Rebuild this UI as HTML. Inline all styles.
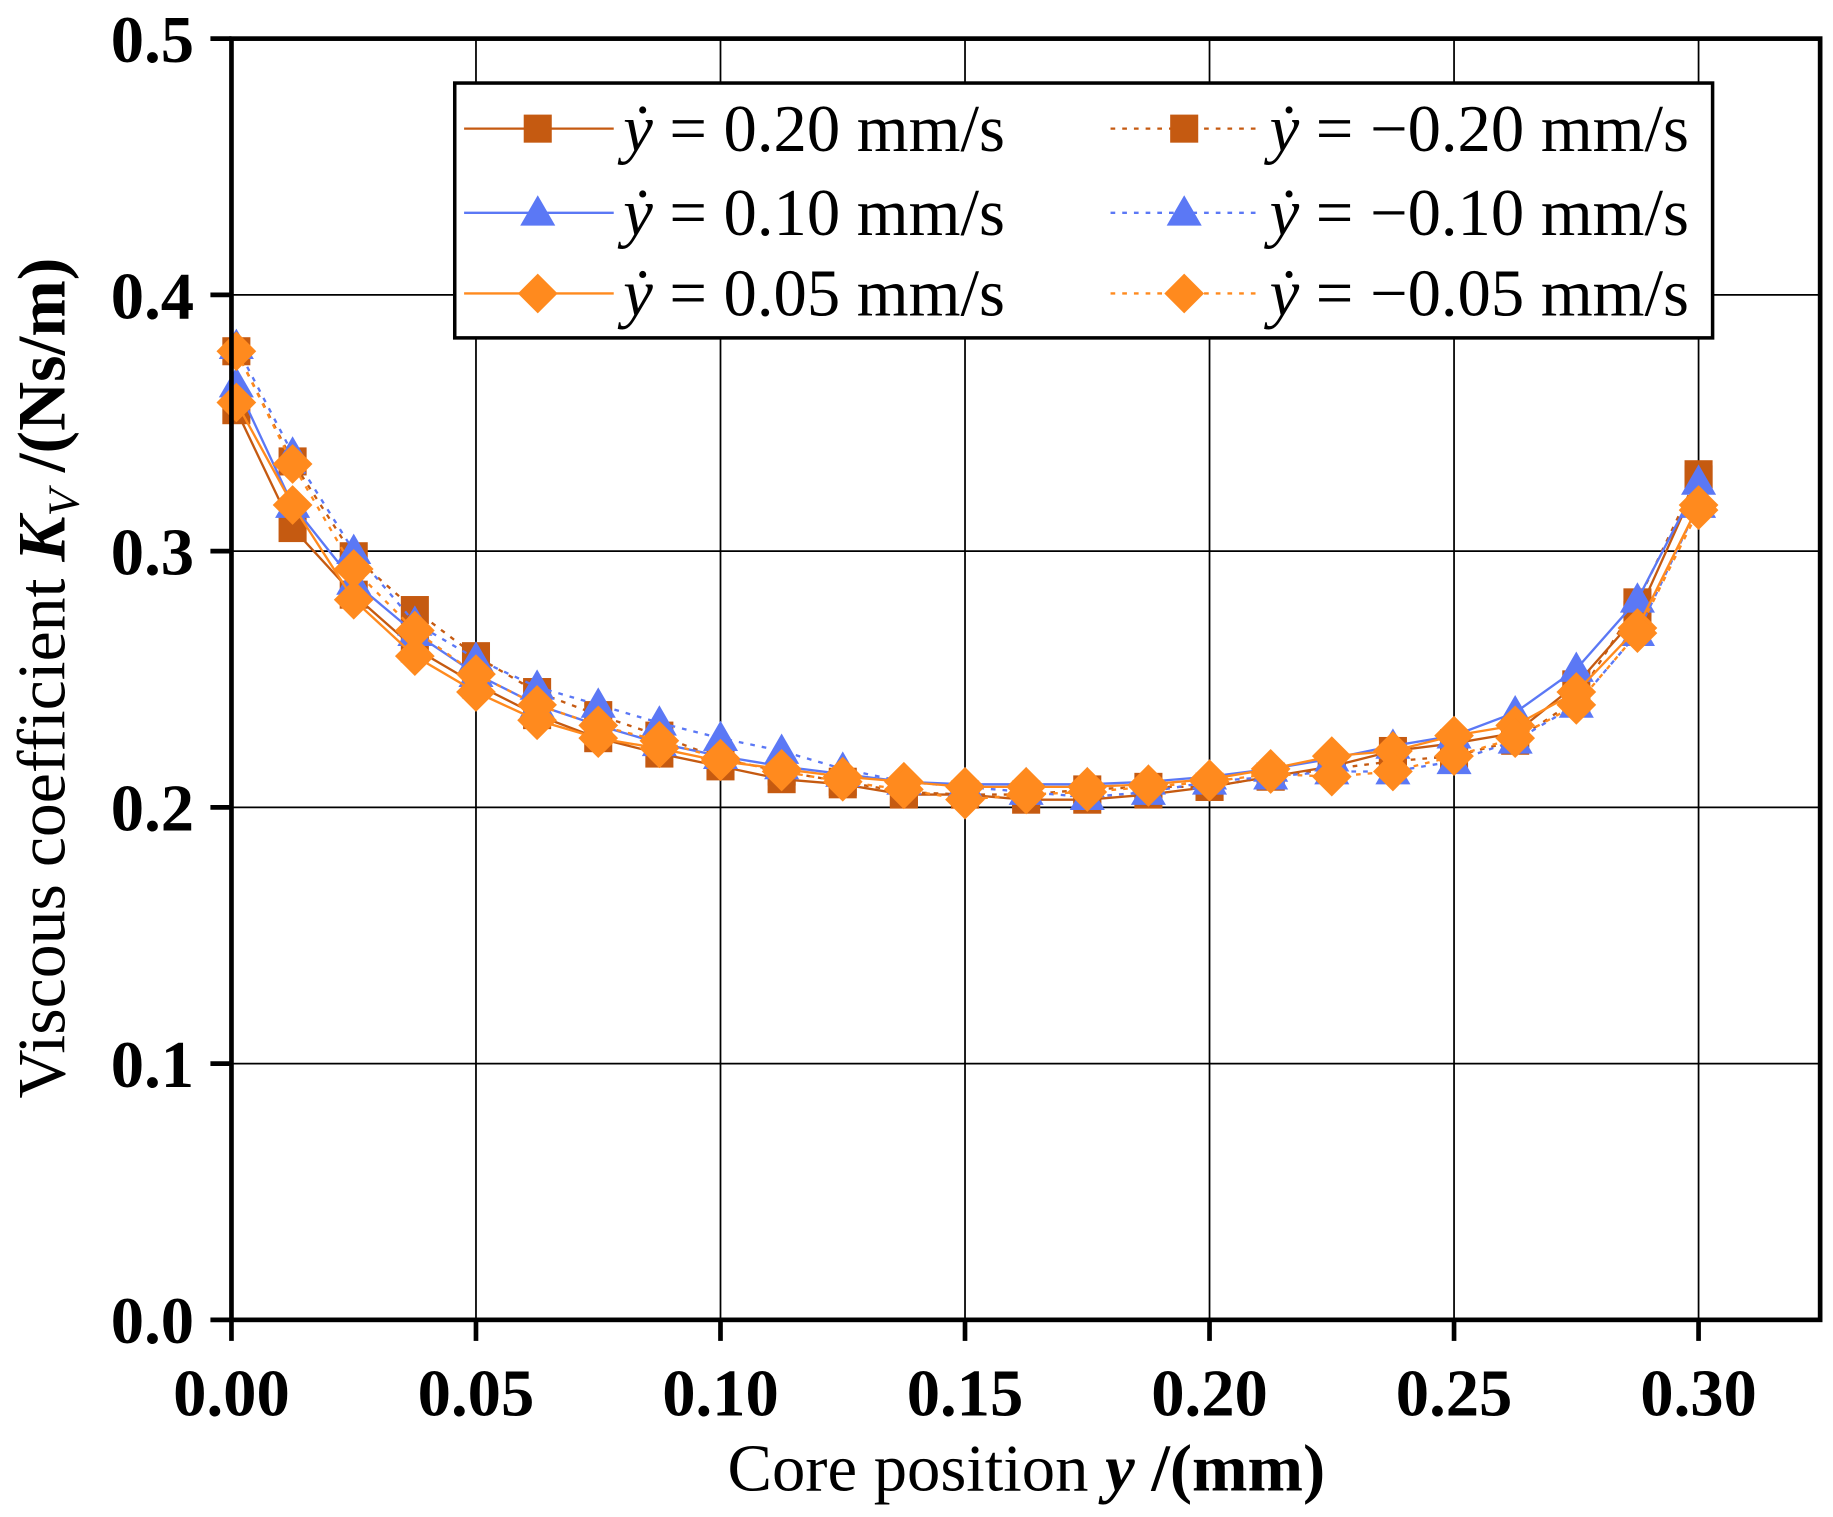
<!DOCTYPE html>
<html><head><meta charset="utf-8">
<style>
html,body{margin:0;padding:0;background:#fff;}
svg{display:block;}
text{font-family:"Liberation Serif",serif;fill:#000;}
</style></head>
<body>
<svg id="chart" width="1833" height="1517" viewBox="0 0 1568 1297.6" xmlns="http://www.w3.org/2000/svg">
<g id="grid"></g>
<g id="series"></g>
<g id="axes"></g>
<g id="legend"></g>
<text x="878" y="1275" font-size="57" text-anchor="middle">Core position <tspan font-weight="bold" font-style="italic">y</tspan><tspan font-weight="bold"> /(mm)</tspan></text>
<text transform="translate(55,580) rotate(-90)" font-size="58" text-anchor="middle">Viscous coefficient <tspan font-weight="bold" font-style="italic">K</tspan><tspan font-style="italic" font-size="38" dy="12">V</tspan><tspan font-weight="bold" dy="-12">  /(Ns/m)</tspan></text>
</svg>
<script>
const xValues = [0.001,0.0125,0.025,0.0375,0.05,0.0625,0.075,0.0875,0.1,0.1125,0.125,0.1375,0.15,0.1625,0.175,0.1875,0.2,0.2125,0.225,0.2375,0.25,0.2625,0.275,0.2875,0.3];
const seriesPos020 = [0.355,0.309,0.283,0.262,0.248,0.236,0.227,0.221,0.216,0.211,0.209,0.205,0.205,0.203,0.203,0.205,0.208,0.212,0.216,0.222,0.225,0.229,0.248,0.275,0.328];
const seriesNeg020 = [0.378,0.335,0.298,0.277,0.259,0.245,0.236,0.228,0.219,0.214,0.210,0.206,0.205,0.205,0.207,0.208,0.208,0.212,0.215,0.218,0.220,0.226,0.242,0.280,0.330];
const seriesPos010 = [0.365,0.318,0.288,0.268,0.252,0.240,0.232,0.225,0.220,0.216,0.213,0.210,0.209,0.209,0.209,0.210,0.212,0.215,0.219,0.224,0.228,0.237,0.254,0.281,0.327];
const seriesNeg010 = [0.380,0.338,0.300,0.272,0.258,0.247,0.240,0.233,0.227,0.222,0.215,0.210,0.208,0.206,0.204,0.206,0.210,0.212,0.214,0.214,0.218,0.226,0.240,0.268,0.318];
const seriesPos005 = [0.358,0.318,0.281,0.259,0.245,0.234,0.227,0.223,0.218,0.215,0.212,0.210,0.208,0.208,0.208,0.209,0.211,0.215,0.220,0.222,0.228,0.232,0.245,0.270,0.318];
const seriesNeg005 = [0.378,0.334,0.293,0.269,0.252,0.240,0.232,0.226,0.219,0.214,0.210,0.207,0.203,0.205,0.206,0.208,0.210,0.213,0.212,0.214,0.220,0.227,0.240,0.268,0.316];
const xTicks = [0,0.05,0.10,0.15,0.20,0.25,0.30];
const xTickLabels = ["0.00","0.05","0.10","0.15","0.20","0.25","0.30"];
const yTicks = [0,0.1,0.2,0.3,0.4,0.5];
const yTickLabels = ["0.0","0.1","0.2","0.3","0.4","0.5"];
const legendLabels = ["0.20","0.10","0.05","\u22120.20","\u22120.10","\u22120.05"];

const NS="http://www.w3.org/2000/svg";
const L=198,R=1557,T=33,B=1129;
function sx(v){return L+v*(1453-L)/0.30;}
function sy(v){return B-v*(B-T)/0.5;}
function mk(tag,attrs,parent){const e=document.createElementNS(NS,tag);for(const k in attrs)e.setAttribute(k,attrs[k]);parent.appendChild(e);return e;}
const grid=document.getElementById('grid'),axes=document.getElementById('axes'),ser=document.getElementById('series'),leg=document.getElementById('legend');

xTicks.forEach((t,i)=>{
  if(t>0){const g=mk('line',{x1:sx(t),x2:sx(t),y1:T,y2:B,stroke:'#000','stroke-width':1.5},grid);
  
  }
  const tk=mk('line',{x1:sx(t),x2:sx(t),y1:B,y2:B+18,stroke:'#000','stroke-width':4},axes);
  
  
  const tx=mk('text',{x:sx(t),y:1211,'font-size':57,'font-weight':'bold','text-anchor':'middle'},axes);
  tx.textContent=xTickLabels[i];
  
  
});
yTicks.forEach((t,i)=>{
  if(t>0&&t<0.5){const g=mk('line',{x1:L,x2:R,y1:sy(t),y2:sy(t),stroke:'#000','stroke-width':1.5},grid);
  
  }
  const tk=mk('line',{x1:L-18,x2:L,y1:sy(t),y2:sy(t),stroke:'#000','stroke-width':4},axes);
  
  
  const tx=mk('text',{x:166,y:sy(t)+20,'font-size':57,'font-weight':'bold','text-anchor':'end'},axes);
  tx.textContent=yTickLabels[i];
  
  
});
const frame=mk('rect',{x:L,y:T,width:R-L,height:B-T,fill:'none',stroke:'#000','stroke-width':4},axes);



function marker(shape,cx,cy,color,parent){
  let e;
  if(shape==='square') e=mk('rect',{x:cx-12,y:cy-12,width:24,height:24,fill:color},parent);
  else if(shape==='triangle') e=mk('polygon',{points:`${cx},${cy-15} ${cx+15},${cy+11} ${cx-15},${cy+11}`,fill:color},parent);
  else e=mk('polygon',{points:`${cx},${cy-17} ${cx+17},${cy} ${cx},${cy+17} ${cx-17},${cy}`,fill:color},parent);
  return e;
}
const defs=[
 {d:seriesPos020,c:'#C55A11',s:'square',dash:null,n:'series-pos-0.20'},
 {d:seriesNeg020,c:'#C55A11',s:'square',dash:'4 6',n:'series-neg-0.20'},
 {d:seriesPos010,c:'#5B78F5',s:'triangle',dash:null,n:'series-pos-0.10'},
 {d:seriesNeg010,c:'#5B78F5',s:'triangle',dash:'4 6',n:'series-neg-0.10'},
 {d:seriesPos005,c:'#FF8A1E',s:'diamond',dash:null,n:'series-pos-0.05'},
 {d:seriesNeg005,c:'#FF8A1E',s:'diamond',dash:'4 6',n:'series-neg-0.05'}
];
defs.forEach(sd=>{
  const g=mk('g',{},ser);
  
  
  const pts=xValues.map((x,i)=>sx(x)+','+sy(sd.d[i])).join(' ');
  const a={points:pts,fill:'none',stroke:sd.c,'stroke-width':2};
  if(sd.dash)a['stroke-dasharray']=sd.dash;
  const pl=mk('polyline',a,g);
  
  
  xValues.forEach((x,i)=>{
    const m=marker(sd.s,sx(x),sy(sd.d[i]),sd.c,g);
    
    
  });
});

// legend
const lb=mk('rect',{x:389,y:71,width:1076,height:218,fill:'#fff',stroke:'#000','stroke-width':3},leg);


const order=[0,2,4,1,3,5];
const rows=[110,182,251];
order.forEach((si,k)=>{
  const sd=defs[si];const col=Math.floor(k/3),row=k%3;
  const x0=col?950:397,yy=rows[row];
  const g=mk('g',{},leg);
  
  
  const a={x1:x0,x2:x0+128,y1:yy,y2:yy,stroke:sd.c,'stroke-width':2};
  if(sd.dash)a['stroke-dasharray']=sd.dash;
  mk('line',a,g);
  marker(sd.s,x0+63,yy,sd.c,g);
  const t=mk('text',{x:x0+136,y:yy+19,'font-size':57},g);
  t.innerHTML='<tspan font-style="italic">\u1E8F</tspan> = '+(col&&row===0?' ':'')+legendLabels[k]+' mm/s';
});
</script>
</body></html>
